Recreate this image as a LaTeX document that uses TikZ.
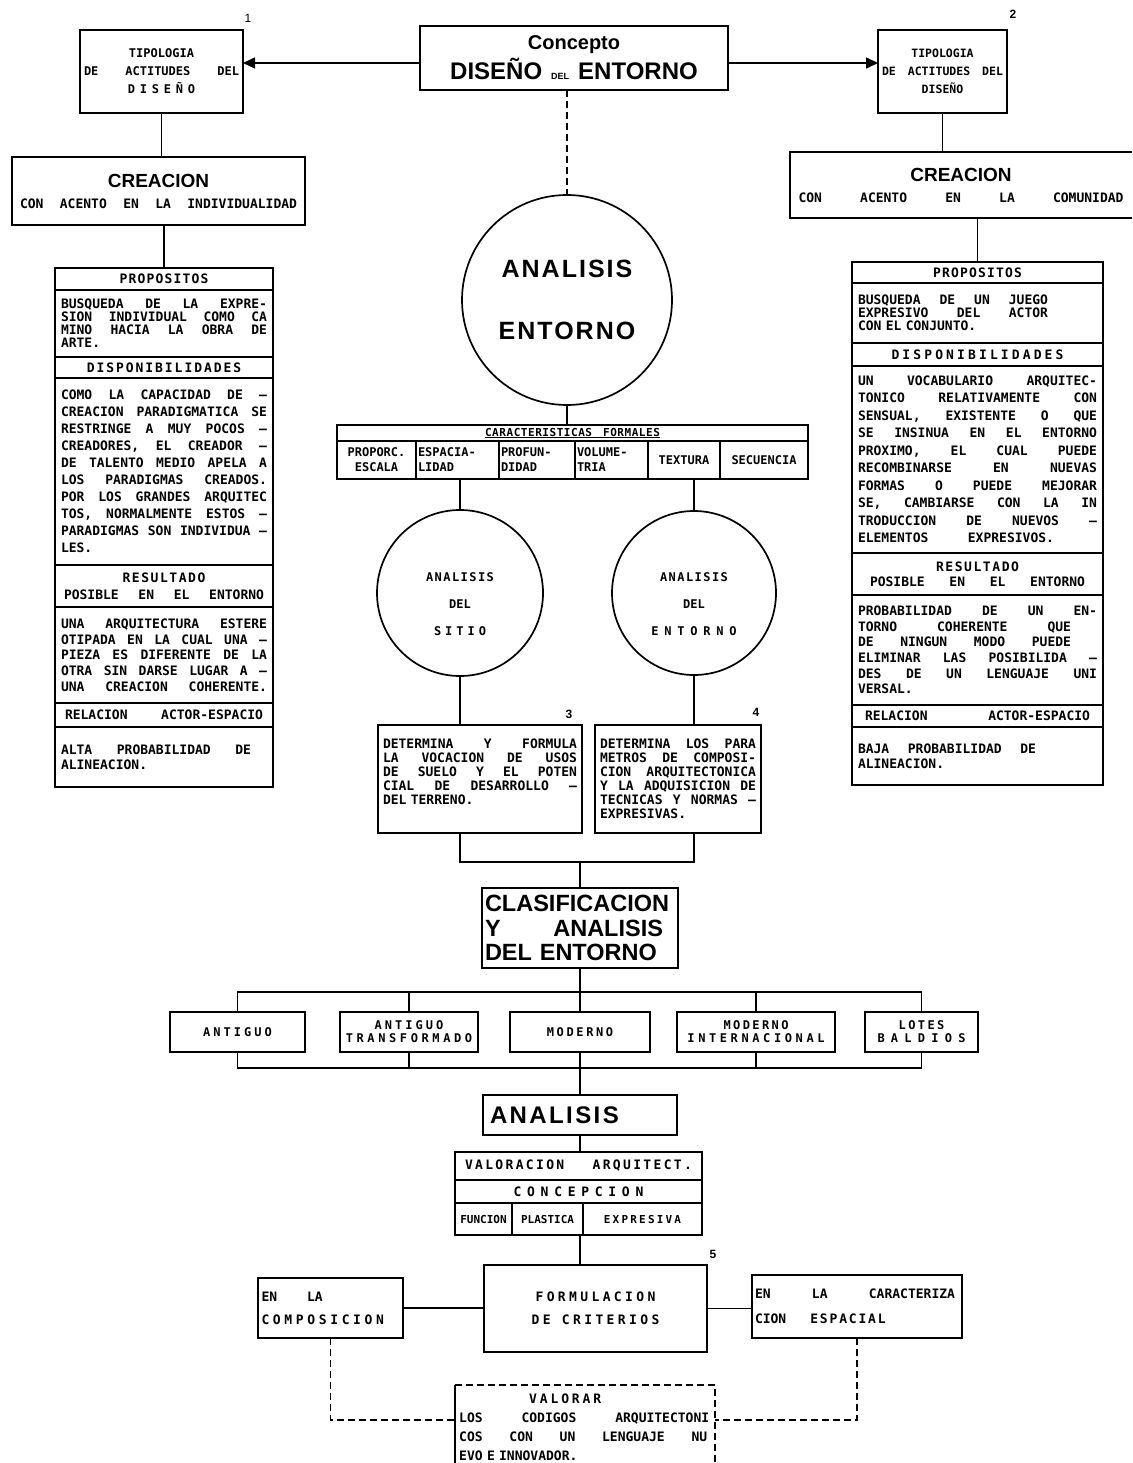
\documentclass[tikz,border=0pt]{standalone}
\usepackage{fontspec}
\usetikzlibrary{arrows.meta}
\newfontfamily\lt{DejaVu Sans Mono}
\newfontfamily\bg{Liberation Sans}
\newcommand\sm{\lt\bfseries\fontsize{13}{15}\selectfont}
\newcommand\J[1]{\makebox[\hsize][s]{\spaceskip=.3em plus 1fil\relax #1}}
\newcommand\W[2]{\makebox[#1][s]{\spaceskip=.3em plus 1fil\relax #2}}
\newcommand\LS[1]{\addfontfeature{LetterSpace=#1}}
\begin{document}
\begin{tikzpicture}[x=1pt,y=-1pt,
 box/.style={draw, line width=1.5pt, inner sep=0pt, outer sep=0pt, anchor=north west, align=center, font=\sm},
 tbox/.style={box, align=left},
 conn/.style={line width=1.5pt},
 dconn/.style={line width=1.3pt, dash pattern=on 7pt off 4pt},
 arr/.style={conn, -{Triangle[length=12pt,width=11pt]}},
 circ/.style={draw, circle, line width=1.7pt, inner sep=0pt, outer sep=0pt, align=center, font=\sm},
 ctext/.style={inner sep=0pt, align=center, font=\sm\fontsize{12}{27}\selectfont},
 num/.style={inner sep=0pt, font=\bg\bfseries\fontsize{12}{12}\selectfont}
]
\fill[white] (0,0) rectangle (1132,1463);
\useasboundingbox (0,0) rectangle (1132,1463);

% ---------- top row
\node[box, minimum width=308pt, minimum height=64pt, font=\bg\bfseries\fontsize{24}{30}\selectfont] (con) at (420,26)
 {{\fontsize{20}{20}\selectfont Concepto}\\DISEÑO\hspace{9pt}{\fontsize{9}{9}\selectfont DEL}\hspace{9pt}ENTORNO};
\node[box, minimum width=163pt, minimum height=83pt, font=\sm\fontsize{12}{18}\selectfont] (t1) at (80,30)
 {TIPOLOGIA\\\W{155pt}{DE ACTITUDES DEL}\\{\LS{40}DISEÑO}};
\node[num, font=\bg\fontsize{12}{12}\selectfont] (n1) at (248,18) {1};
\node[box, minimum width=129pt, minimum height=83pt, font=\sm\fontsize{11.5}{18}\selectfont] (t2) at (878,30)
 {TIPOLOGIA\\\W{121pt}{DE ACTITUDES DEL}\\DISEÑO};
\node[num] (n2) at (1013,14) {2};
\draw[arr] ([yshift=-5pt]con.west) -- ([yshift=-5pt]con.west -| t1.east);
\draw[arr] ([yshift=-5pt]con.east) -- ([yshift=-5pt]con.east -| t2.west);

% ---------- creacion boxes
\node[box, minimum width=293pt, minimum height=68pt] (crL) at (12,157)
 {{\bg\bfseries\fontsize{19}{19}\selectfont CREACION}\\[6pt]\W{277pt}{CON ACENTO EN LA INDIVIDUALIDAD}};
\draw[conn] (t1.south) -- (t1.south |- crL.north);
\node[box, draw=none, minimum width=342pt, minimum height=66pt] (crR) at (790,152)
 {{\bg\bfseries\fontsize{19}{19}\selectfont CREACION}\\[6pt]\W{325pt}{CON ACENTO EN LA COMUNIDAD}};
\draw[conn] (crR.north east) -- (crR.north west) -- (crR.south west) -- (crR.south east);
\draw[conn] (t2.south) -- (t2.south |- crR.north);

% ---------- left table
\node[box, minimum width=218pt, minimum height=22pt] (lp) at (55,268) {{\LS{9}PROPOSITOS}};
\node[tbox, minimum width=218pt, minimum height=67pt, text width=206pt, font=\sm\fontsize{13}{13}\selectfont] (lpb) at (lp.south west)
 {\J{BUSQUEDA DE LA EXPRE-}\\\J{SION INDIVIDUAL COMO CA}\\\J{MINO HACIA LA OBRA DE}\\ARTE.};
\node[box, minimum width=218pt, minimum height=21pt] (ld) at (lpb.south west) {{\LS{15}DISPONIBILIDADES}};
\node[tbox, minimum width=218pt, minimum height=187pt, text width=206pt, font=\sm\fontsize{13}{17}\selectfont] (ldb) at (ld.south west)
 {\J{COMO LA CAPACIDAD DE –}\\\J{CREACION PARADIGMATICA SE}\\\J{RESTRINGE A MUY POCOS –}\\\J{CREADORES, EL CREADOR –}\\\J{DE TALENTO MEDIO APELA A}\\\J{LOS PARADIGMAS CREADOS.}\\\J{POR LOS GRANDES ARQUITEC}\\\J{TOS, NORMALMENTE ESTOS –}\\\J{PARADIGMAS SON INDIVIDUA –}\\LES.};
\node[box, minimum width=218pt, minimum height=42pt, font=\sm\fontsize{13}{17}\selectfont] (lr) at (ldb.south west)
 {{\LS{12}RESULTADO}\\\W{200pt}{POSIBLE EN EL ENTORNO}};
\node[tbox, minimum width=218pt, minimum height=96pt, text width=206pt, font=\sm\fontsize{13}{15.7}\selectfont] (lrb) at (lr.south west)
 {\J{UNA ARQUITECTURA ESTERE}\\\J{OTIPADA EN LA CUAL UNA –}\\\J{PIEZA ES DIFERENTE DE LA}\\\J{OTRA SIN DARSE LUGAR A –}\\\J{UNA CREACION COHERENTE.}};
\node[box, minimum width=218pt, minimum height=24pt] (la) at (lrb.south west) {\W{198pt}{RELACION ACTOR-ESPACIO}};
\node[tbox, minimum width=218pt, minimum height=60pt, text width=206pt, font=\sm\fontsize{13}{15}\selectfont] (lab) at (la.south west)
 {\W{190pt}{ALTA PROBABILIDAD DE}\\ALINEACION.};
\draw[conn] (lp.north) -- (lp.north |- crL.south);

% ---------- right table
\node[box, minimum width=251pt, minimum height=21pt] (rp) at (852,262) {{\LS{9}PROPOSITOS}};
\node[tbox, minimum width=251pt, minimum height=60pt, text width=239pt, font=\sm\fontsize{13}{13}\selectfont] (rpb) at (rp.south west)
 {\W{190pt}{BUSQUEDA DE UN JUEGO}\\\W{190pt}{EXPRESIVO DEL ACTOR}\\CON EL CONJUNTO.};
\node[box, minimum width=251pt, minimum height=23pt] (rd) at (rpb.south west) {{\LS{24}DISPONIBILIDADES}};
\node[tbox, minimum width=251pt, minimum height=187pt, text width=239pt, font=\sm\fontsize{13}{17.5}\selectfont] (rdb) at (rd.south west)
 {\J{UN VOCABULARIO ARQUITEC-}\\\J{TONICO RELATIVAMENTE CON}\\\J{SENSUAL, EXISTENTE O QUE}\\\J{SE INSINUA EN EL ENTORNO}\\\J{PROXIMO, EL CUAL PUEDE}\\\J{RECOMBINARSE EN NUEVAS}\\\J{FORMAS O PUEDE MEJORAR}\\\J{SE, CAMBIARSE CON LA IN}\\\J{TRODUCCION DE NUEVOS –}\\\W{196pt}{ELEMENTOS EXPRESIVOS.}};
\node[box, minimum width=251pt, minimum height=42pt, font=\sm\fontsize{13}{15}\selectfont] (rr) at (rdb.south west)
 {{\LS{12}RESULTADO}\\\W{215pt}{POSIBLE EN EL ENTORNO}};
\node[tbox, minimum width=251pt, minimum height=110pt, text width=239pt, font=\sm\fontsize{13}{15.6}\selectfont] (rrb) at (rr.south west)
 {\J{PROBABILIDAD DE UN EN-}\\\W{213pt}{TORNO COHERENTE QUE}\\\W{213pt}{DE NINGUN MODO PUEDE}\\\J{ELIMINAR LAS POSIBILIDA –}\\\J{DES DE UN LENGUAJE UNI}\\VERSAL.};
\node[box, minimum width=251pt, minimum height=22pt] (ra) at (rrb.south west) {\W{225pt}{RELACION ACTOR-ESPACIO}};
\node[tbox, minimum width=251pt, minimum height=58pt, text width=239pt, font=\sm\fontsize{13}{15}\selectfont] (rab) at (ra.south west)
 {\W{178pt}{BAJA PROBABILIDAD DE}\\ALINEACION.};
\draw[conn] (rp.north) -- (rp.north |- crR.south);

% ---------- centre: analysis circle and characteristics
\node[circ, minimum size=210pt, font=\bg\bfseries\fontsize{25}{62}\selectfont] (ae) at (567,300) {{\LS{8}ANALISIS}\\{\LS{8}ENTORNO}};
\draw[dconn] (ae.north |- con.south) -- (ae.north);
\node[box, minimum width=471pt, minimum height=16pt, font=\sm\fontsize{11}{10}\selectfont] (car) at (337,425) {\underline{{\LS{5}CARACTERISTICAS}\quad{\LS{5}FORMALES}}};
\draw[conn] (ae.south) -- (ae.south |- car.north);
\tikzset{cell/.style={box, minimum height=38pt, font=\sm\fontsize{12}{15}\selectfont}}
\node[cell, minimum width=79pt] (c1) at (337,441) {PROPORC.\\ESCALA};
\node[cell, minimum width=83pt, text width=79pt, align=left] (c2) at (416,441) {ESPACIA-\\LIDAD};
\node[cell, minimum width=76pt, text width=72pt, align=left] (c3) at (499,441) {PROFUN-\\DIDAD};
\node[cell, minimum width=73pt, text width=69pt, align=left] (c4) at (575,441) {VOLUME-\\TRIA};
\node[cell, minimum width=72pt] (c5) at (648,441) {TEXTURA};
\node[cell, minimum width=88pt] (c6) at (720,441) {SECUENCIA};

\node[circ, minimum size=166pt] (si) at (460,593) {};
\node[ctext] (sit) at ([yshift=-11pt]si.center) {{\LS{12}ANALISIS}\\DEL\\{\LS{33}SITIO}};
\node[circ, minimum size=164pt] (en) at (694,593) {};
\node[ctext] (ent) at ([yshift=-11pt]en.center) {{\LS{12}ANALISIS}\\DEL\\{\LS{48}ENTORNO}};
\draw[conn] (si.north |- c2.south) -- (si.north);
\draw[conn] (en.north |- c5.south) -- (en.north);

\node[tbox, minimum width=204pt, minimum height=108pt, text width=194pt, font=\sm\fontsize{13}{14}\selectfont] (b3x) at (378,725)
 {\J{DETERMINA Y FORMULA}\\\J{LA VOCACION DE USOS}\\\J{DE SUELO Y EL POTEN}\\\J{CIAL DE DESARROLLO –}\\DEL TERRENO.\\\mbox{}};
\node[tbox, minimum width=166pt, minimum height=108pt, text width=156pt, font=\sm\fontsize{13}{14}\selectfont] (b4x) at (595,725)
 {\J{DETERMINA LOS PARA}\\\J{METROS DE COMPOSI-}\\\J{CION ARQUITECTONICA}\\\J{Y LA ADQUISICION DE}\\\J{TECNICAS Y NORMAS –}\\EXPRESIVAS.};
\node[num] (n3) at (569,714) {3};
\node[num] (n4) at (756,712) {4};
\draw[conn] (si.south) -- (si.south |- b3x.north);
\draw[conn] (en.south) -- (en.south |- b4x.north);

% ---------- classification
\node[tbox, minimum width=196pt, minimum height=80pt, text width=190pt, font=\bg\bfseries\fontsize{23.5}{24.5}\selectfont] (clas) at (482,888)
 {CLASIFICACION\\\W{178pt}{Y ANALISIS}\\DEL ENTORNO};
\coordinate (brc) at (clas.north |- 0,862);
\draw[conn] (si.south |- b3x.south) -- (si.south |- brc) -- (en.south |- brc) -- (en.south |- b4x.south);
\draw[conn] (brc) -- (clas.north);

\tikzset{cls/.style={box, minimum height=40pt, font=\sm\fontsize{12}{13}\selectfont}}
\node[cls, minimum width=135pt] (k1) at (170,1012) {{\LS{25}ANTIGUO}};
\node[cls, minimum width=138pt] (k2) at (340,1012) {{\LS{25}ANTIGUO}\\{\LS{30}TRANSFORMADO}};
\node[cls, minimum width=140pt] (k3) at (510,1012) {{\LS{22}MODERNO}};
\node[cls, minimum width=158pt] (k4) at (677,1012) {{\LS{20}MODERNO}\\{\LS{30}INTERNACIONAL}};
\node[cls, minimum width=113pt] (k5) at (865,1012) {{\LS{20}LOTES}\\{\LS{52}BALDIOS}};
\coordinate (tbus) at (clas.south |- 0,992);
\coordinate (bbus) at (clas.south |- 0,1068);
\draw[conn] (clas.south) -- (tbus);
\draw[conn] (k1.north) -- (k1.north |- tbus) -- (k5.north |- tbus) -- (k5.north);
\foreach \b in {k2,k3,k4} \draw[conn] (\b.north) -- (\b.north |- tbus);
\draw[conn] (k1.south) -- (k1.south |- bbus) -- (k5.south |- bbus) -- (k5.south);
\foreach \b in {k2,k4} \draw[conn] (\b.south) -- (\b.south |- bbus);

% ---------- analysis and valuation
\node[tbox, minimum width=194pt, minimum height=40pt, text width=180pt, font=\bg\bfseries\fontsize{24}{24}\selectfont] (an) at (483,1095) {{\LS{10}ANALISIS}};
\draw[conn] (k3.south) -- (an.north);
\node[box, minimum width=247pt, minimum height=28pt, font=\sm\fontsize{13}{12}\selectfont] (v1) at (455,1152) {{\LS{18}\W{227pt}{VALORACION ARQUITECT.}}};
\node[box, minimum width=247pt, minimum height=23pt, font=\sm\fontsize{13}{12}\selectfont] (v2) at (v1.south west) {{\LS{44}CONCEPCION}};
\tikzset{vcell/.style={box, minimum height=32pt, font=\sm\fontsize{11}{10}\selectfont}}
\node[vcell, minimum width=57pt] (f1) at (v2.south west) {FUNCION};
\node[vcell, minimum width=71pt] (f2) at (f1.north east) {PLASTICA};
\node[vcell, minimum width=119pt] (f3) at (f2.north east) {{\LS{20}EXPRESIVA}};
\draw[conn] (an.south) -- (an.south |- v1.north);

\node[box, minimum width=223pt, minimum height=87pt, font=\sm\fontsize{13}{23}\selectfont] (form) at (484,1265) {{\LS{26}FORMULACION}\\{\LS{26}DE\ CRITERIOS}};
\node[num] (n5) at (713,1254) {5};
\draw[conn] (an.south |- f2.south) -- (an.south |- form.north);
\node[tbox, minimum width=145pt, minimum height=60pt, text width=138pt, font=\sm\fontsize{13}{23}\selectfont] (comp) at (258,1278) {EN\hspace{30pt}LA\\{\LS{28}COMPOSICION}};
\node[tbox, minimum width=210pt, minimum height=63pt, text width=204pt, font=\sm\fontsize{13}{25}\selectfont] (cara) at (752,1275) {\W{200pt}{EN LA CARACTERIZA}\\CION\hspace{24pt}{\LS{14}ESPACIAL}};
\draw[conn] (comp.east) -- (comp.east -| form.west);
\draw[conn] (form.east) -- (form.east -| cara.west);

% ---------- valorar
\coordinate (vtl) at (455,1385);
\coordinate (vtr) at (715,1385);
\coordinate (vbl) at (455,1463);
\coordinate (vbr) at (715,1463);
\draw[conn] (vbl) -- (vtl);
\draw[dconn] (vtl) -- (vtr) -- (vbr);
\node[inner sep=0pt, anchor=north west, text width=252pt, align=left, font=\sm\fontsize{13}{19}\selectfont] (val) at (459,1394)
 {\hspace*{70pt}{\LS{22}VALORAR}\\\W{250pt}{LOS CODIGOS ARQUITECTONI}\\\W{248pt}{COS CON UN LENGUAJE NU}\\EVO E INNOVADOR.};
\coordinate (vl) at (455,1420);
\coordinate (vr) at (715,1420);
\draw[dconn] (comp.south) |- (vl);
\draw[dconn] (cara.south) |- (vr);
\end{tikzpicture}
\end{document}
